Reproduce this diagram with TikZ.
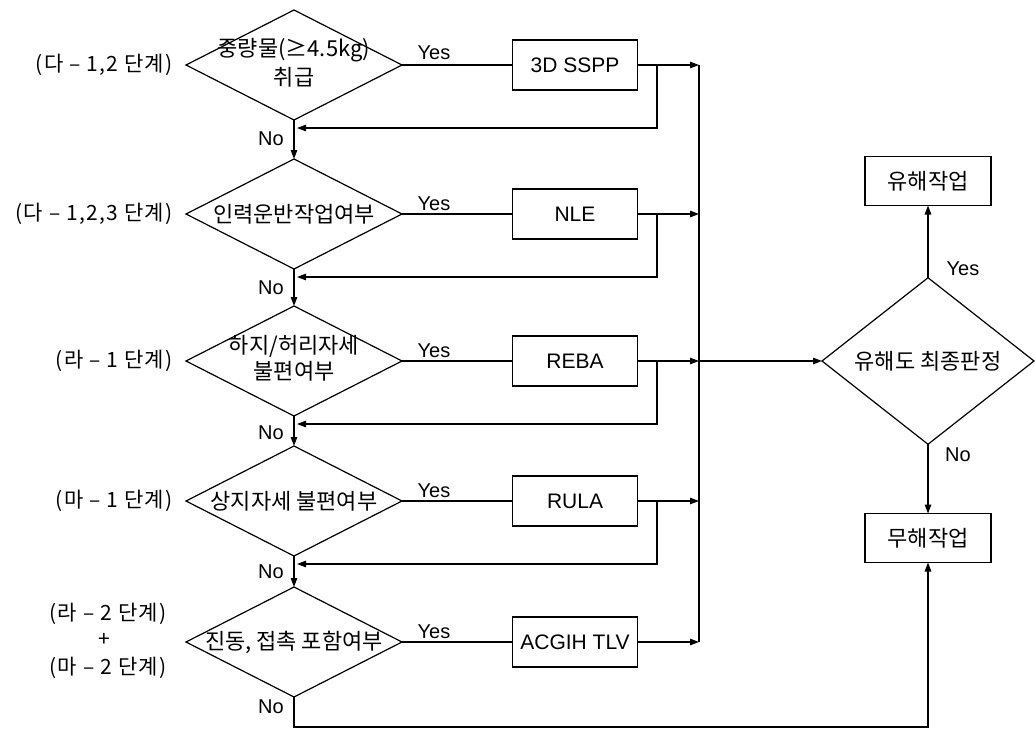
\documentclass[tikz,border=0pt]{standalone}
\usepackage{fontspec}
\setmainfont{Noto Sans CJK KR}
\newfontfamily\lat{Liberation Sans}
\newfontfamily\lbl[LetterSpace=6]{Noto Sans CJK KR}
\usetikzlibrary{shapes.geometric,arrows.meta}
\begin{document}
\begin{tikzpicture}[x=1pt,y=-1pt,line width=1.2pt,
  dec/.style={draw,diamond,minimum width=216pt,minimum height=110pt,inner sep=0pt,outer sep=0pt},
  fin/.style={draw,diamond,minimum width=212pt,minimum height=106pt,inner sep=0pt,outer sep=0pt,font=\fontsize{22}{26}\selectfont},
  tool/.style={draw,rectangle,minimum width=125pt,minimum height=50pt,inner sep=0pt,outer sep=0pt,font=\lat\fontsize{21}{25}\selectfont},
  res/.style={draw,rectangle,minimum width=126pt,minimum height=49pt,inner sep=0pt,outer sep=0pt,font=\fontsize{22}{26}\selectfont},
  yn/.style={inner sep=0pt,font=\lat\fontsize{20}{22}\selectfont},
  stage/.style={inner sep=0pt,font=\lbl\fontsize{21}{24}\selectfont},
  arr/.style={-{Triangle[length=9pt,width=6.5pt]}}]
\useasboundingbox (0,0) rectangle (1035,731);
% decision diamonds
\node[dec] (d1) at (294,65) {\makebox[0pt]{\fontsize{22}{29}\selectfont\begin{tabular}{@{}c@{}}중량물(≥4.5kg)\\취급\end{tabular}}};
\node[dec] (d2) at (294,214) {\makebox[0pt]{\fontsize{22}{26}\selectfont 인력운반작업여부}};
\node[dec] (d3) at (294,361) {\makebox[0pt]{\fontsize{22}{25}\selectfont\begin{tabular}{@{}c@{}}하지/허리자세\\불편여부\end{tabular}}};
\node[dec] (d4) at (294,501) {\makebox[0pt]{\fontsize{22}{26}\selectfont 상지자세 불편여부}};
\node[dec] (d5) at (294,642) {\makebox[0pt]{\fontsize{22}{26}\selectfont 진동, 접촉 포함여부}};
% stage labels
\node[stage,anchor=east] (s1) at (173,65) {(다 – 1,2 단계)};
\node[stage,anchor=east] (s2) at (173,214) {(다 – 1,2,3 단계)};
\node[stage,anchor=east] (s3) at (173,361) {(라 – 1 단계)};
\node[stage,anchor=east] (s4) at (173,501) {(마 – 1 단계)};
\node[stage] (s5a) at (108,614) {(라 – 2 단계)};
\node[stage] (s5b) at (104,640) {+};
\node[stage] (s5c) at (108,668) {(마 – 2 단계)};
% tools
\node[tool] (t1) at (575,65) {3D SSPP};
\node[tool] (t2) at (575,214) {NLE};
\node[tool] (t3) at (575,361) {REBA};
\node[tool] (t4) at (575,501) {RULA};
\node[tool] (t5) at (575,642) {ACGIH TLV};
% yes labels
\node[yn,anchor=south] (y1) at (434,60) {Yes};
\node[yn,anchor=south] (y2) at (434,211) {Yes};
\node[yn,anchor=south] (y3) at (434,358) {Yes};
\node[yn,anchor=south] (y4) at (434,498) {Yes};
\node[yn,anchor=south] (y5) at (434,639) {Yes};
% no labels
\node[yn] (n1) at (271,139) {No};
\node[yn] (n2) at (271,288) {No};
\node[yn] (n3) at (271,433) {No};
\node[yn] (n4) at (271,572) {No};
\node[yn] (n5) at (271,707) {No};
% final
\node[fin] (f) at (928,361) {유해도 최종판정};
\node[res] (harm) at (928,181) {유해작업};
\node[res] (safe) at (928,538) {무해작업};
\node[yn] (fy) at (963,269) {Yes};
\node[yn] (fn) at (958,455) {No};
% coordinates
\coordinate (bt) at (699,65);
\coordinate (bb) at (699,642);
\coordinate (f1) at (657,128);
\coordinate (f2) at (657,277);
\coordinate (f3) at (657,424);
\coordinate (f4) at (657,564);
\coordinate (bl) at (294,727);
% yes connections
\foreach \i in {1,...,5} {
  \draw (d\i.east) -- (t\i.west);
  \draw[arr] (t\i.east) -- (t\i.east -| bt);
}
% feedback loops
\foreach \i in {1,...,4} {
  \draw[arr,shorten >=3pt] (t\i.east -| f\i) |- (d\i.south |- f\i);
}
% no connections
\draw[arr] (d1.south) -- (d2.north);
\draw[arr] (d2.south) -- (d3.north);
\draw[arr] (d3.south) -- (d4.north);
\draw[arr] (d4.south) -- (d5.north);
\draw[arr] (d5.south) -- (bl) -| (safe.south);
% bus
\draw (bt) -- (bb);
\draw[arr] (f.west -| bt) -- (f.west);
\draw[arr] (f.north) -- (harm.south);
\draw[arr] (f.south) -- (safe.north);
\end{tikzpicture}
\end{document}
